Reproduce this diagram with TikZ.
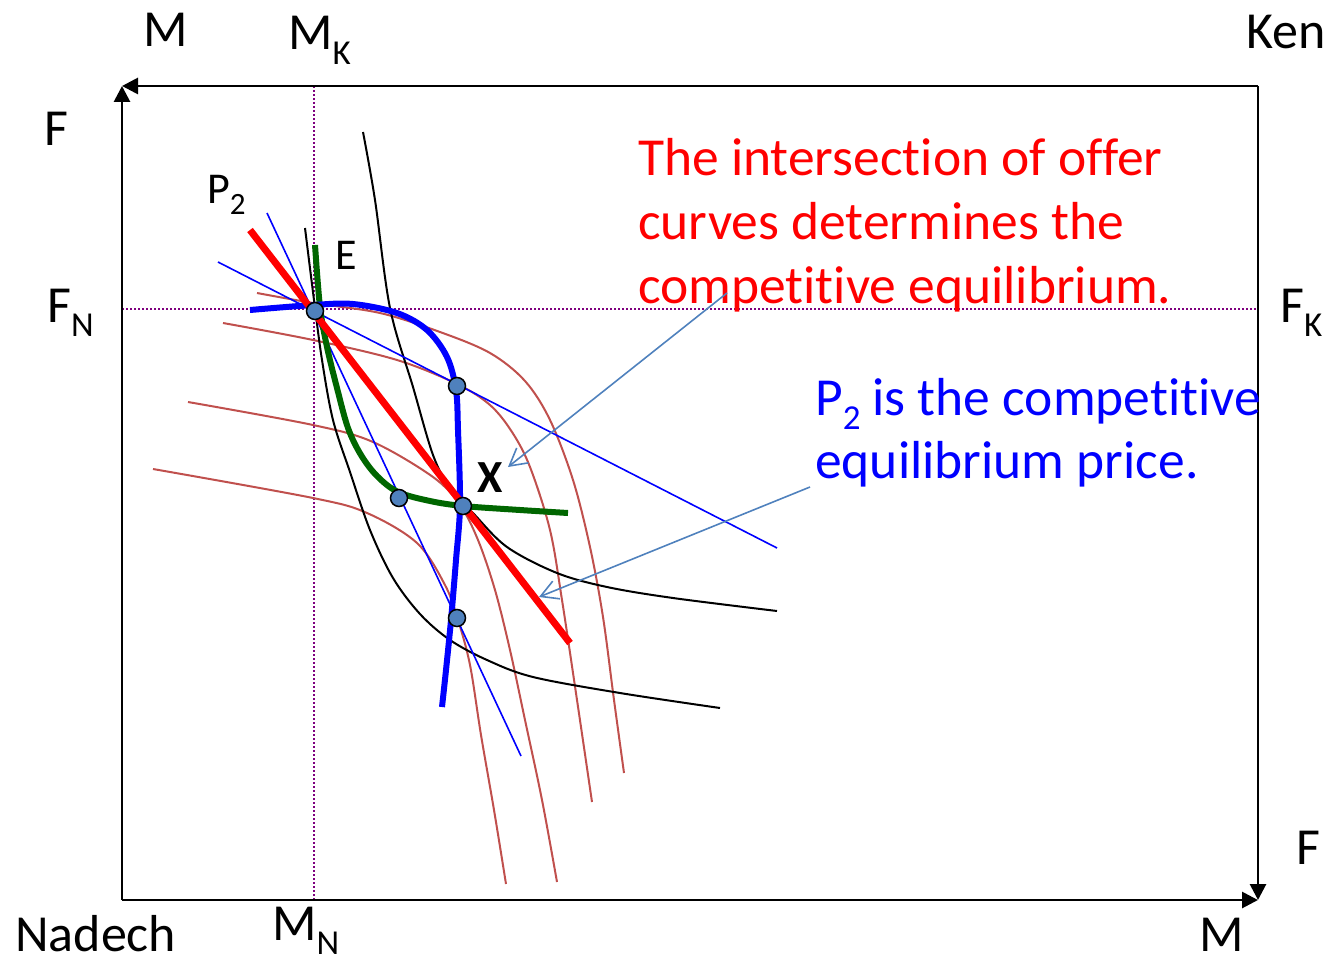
\documentclass[tikz,border=0pt]{standalone}
\usepackage{fontspec}
\setmainfont{Carlito}[Ligatures=NoCommon]
\usetikzlibrary{arrows.meta}
\definecolor{cRed}{HTML}{FF0000}
\definecolor{cBlue}{HTML}{0000FF}
\definecolor{cGreen}{HTML}{006600}
\definecolor{cBrown}{HTML}{C0504D}
\definecolor{cSteel}{HTML}{4F81BD}
\definecolor{cPurple}{HTML}{7F007F}
\newcommand{\lbsz}{\fontsize{52}{60}\selectfont}
\newcommand{\smsz}{\fontsize{44}{52}\selectfont}
\newcommand{\txsz}{\fontsize{53.5}{64}\selectfont}
\newcommand{\subx}[1]{\raisebox{-0.28em}{\fontsize{35}{35}\selectfont #1}}
\newcommand{\subs}[1]{\raisebox{-0.26em}{\fontsize{31}{31}\selectfont #1}}
\tikzset{
  axisline/.style={line width=2.8pt, -{Triangle[length=16pt,width=16pt]}},
  dotline/.style={cPurple, line width=2pt, dash pattern=on 2pt off 2pt},
  browncurve/.style={cBrown, line width=2pt},
  blackcurve/.style={black, line width=2pt},
  thinblue/.style={cBlue, line width=1.6pt},
  offerblue/.style={cBlue, line width=6pt},
  offergreen/.style={cGreen, line width=6pt},
  redline/.style={cRed, line width=7pt},
  eqdot/.style={circle, fill=cSteel, draw=black, line width=1.5pt, minimum size=17pt, inner sep=0pt},
  lbl/.style={anchor=base west, inner sep=0pt, font=\lbsz},
  pointer/.style={cSteel, line width=1.6pt, -{Straight Barb[length=17pt,width=19pt,line width=1.6pt]}},
  txt/.style={anchor=base west, inner sep=0pt, font=\txsz}
}
\begin{document}
\begin{tikzpicture}[x=1pt,y=-1pt]
\useasboundingbox (0,0) rectangle (1329,963);
% corners
\coordinate (TL) at (122,86);
\coordinate (TR) at (1258,86);
\coordinate (BL) at (122,900);
\coordinate (BR) at (1258,900);
% dotted reference lines
\coordinate (vT) at (314,86);
\coordinate (vB) at (314,900);
\coordinate (hL) at (122,309);
\coordinate (hR) at (1258,309);
\draw[dotline] (vT) -- (vB);
\draw[dotline] (hL) -- (hR);
% box with arrows
\draw[axisline] (TR) -- (TL);
\draw[axisline] (BL) -- (TL);
\draw[axisline] (BL) -- (BR);
\draw[axisline] (TR) -- (BR);
% brown indifference curves
\draw[browncurve] plot[smooth, tension=0.55] coordinates {(257,293) (313,303) (380,313) (440,332) (490,353) (525,381) (550,420) (573,480) (590,547) (603,617) (614,700) (624,773)};
\draw[browncurve] plot[smooth, tension=0.55] coordinates {(223,323) (313,340) (397,360) (457,384) (490,405) (512,432) (530,467) (550,530) (562,600) (577,700) (592,802)};
\draw[browncurve] plot[smooth, tension=0.55] coordinates {(188,402) (313,425) (373,442) (433,477) (460,505) (478,540) (495,590) (510,650) (525,720) (542,800) (557,882)};
\draw[browncurve] plot[smooth, tension=0.55] coordinates {(153,469) (313,498) (367,513) (417,543) (445,585) (458,620) (470,665) (481,735) (494,810) (506,884)};
% black indifference curves
\draw[blackcurve] plot[smooth, tension=0.55] coordinates {(305,228) (314,300) (322,360) (333,420) (350,472) (370,530) (393,578) (420,614) (450,640) (487,660) (533,677) (620,693) (720,708)};
\draw[blackcurve] plot[smooth, tension=0.55] coordinates {(363,132) (375,200) (390,308) (413,387) (433,455) (450,488) (473,513) (507,547) (557,573) (607,587) (673,598) (777,611)};
% thin budget lines
\coordinate (b1s) at (218,262);
\coordinate (b1e) at (777,548);
\coordinate (b2s) at (267,213);
\coordinate (b2e) at (521,756);
\draw[thinblue] (b1s) -- (b1e);
\draw[thinblue] (b2s) -- (b2e);
% offer curves
\draw[offergreen] plot[smooth, tension=0.55] coordinates {(315,245) (320,307) (327,347) (337,388) (348,428) (361,455) (377,476) (398,492) (430,501) (463,506) (520,510) (568,513)};
\draw[offerblue] plot[smooth, tension=0.55] coordinates {(250,310) (313,305) (353,304) (397,313) (427,330) (447,357) (456,390) (458,430) (460,505) (456,560) (451,620) (446,670) (442,707)};
% equilibrium price line
\coordinate (rs) at (250,230);
\coordinate (re) at (570,643);
\draw[redline] (rs) -- (re);
% points
\node[eqdot] (E0) at (315,311) {};
\node[eqdot] (d1) at (457,386) {};
\node[eqdot] (d2) at (399,498) {};
\node[eqdot] (X0) at (463,506) {};
\node[eqdot] (d3) at (457,618) {};
% labels
\node[lbl] (lM1) at (143,47) {M};
\node[lbl] (lMK) at (288,50) {M\subx{K}};
\node[lbl] (lKen) at (1246,49) {Ken};
\node[lbl] (lF1) at (44,145) {F};
\node[lbl] (lFN) at (47,322) {F\subx{N}};
\node[lbl] (lFK) at (1280,322) {F\subx{K}};
\node[lbl] (lF2) at (1296,864) {F};
\node[lbl, text depth=0pt] (lNad) at (15,951) {Nadech};
\node[lbl] (lMN) at (272,940) {M\subx{N}};
\node[lbl, text depth=0pt] (lM2) at (1199,951) {M};
\node[anchor=base west, inner sep=0pt, font=\smsz] (lP2) at (207,203) {P\subs{2}};
\node[anchor=base west, inner sep=0pt, font=\smsz] (lE) at (335,269) {E};
\node[anchor=base west, inner sep=0pt, font=\fontsize{46}{52}\selectfont\bfseries] (lX) at (477,492) {X};
% texts
\node[txt, text=cRed] (t1a) at (638,175) {The intersection of offer};
\node[txt, text=cRed] (t1b) at (638,239) {curves determines the};
\node[txt, text=cRed] (t1c) at (638,303) {competitive equilibrium.};
\node[txt, text=cBlue] (t2a) at (815,415) {P\subx{2} is the competitive};
\node[txt, text=cBlue] (t2b) at (815,478) {equilibrium price.};
% pointers
\coordinate (a1s) at (727,293);
\coordinate (a1e) at (508,467);
\coordinate (a2s) at (810,487);
\coordinate (a2e) at (539,597);
\draw[pointer] (a1s) -- (a1e);
\draw[pointer] (a2s) -- (a2e);
\end{tikzpicture}
\end{document}
